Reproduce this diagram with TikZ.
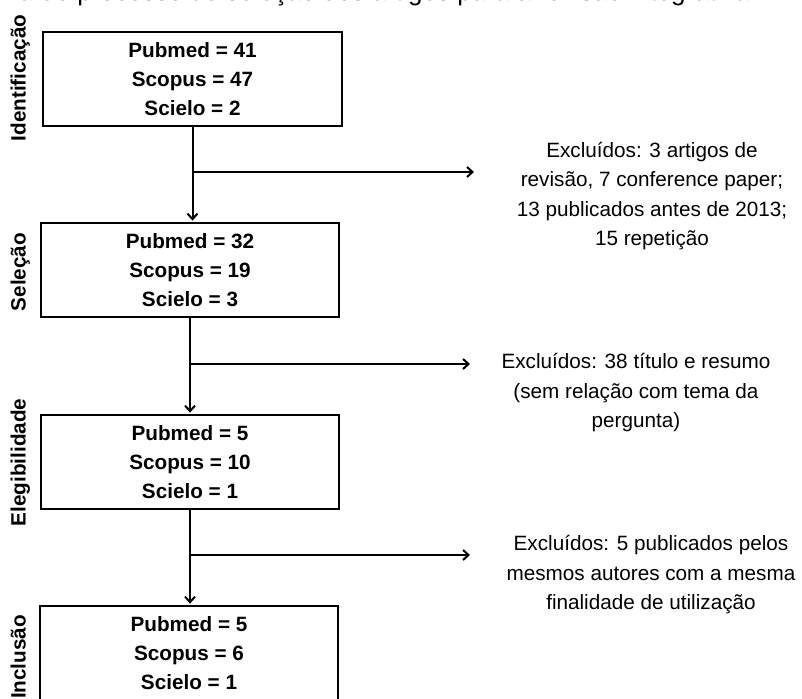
\documentclass[tikz,border=0pt]{standalone}
\usepackage{fontspec}
\setmainfont{Liberation Sans}
\usetikzlibrary{arrows.meta}
\begin{document}
\begin{tikzpicture}[x=1pt,y=-1pt,
  box/.style={draw, line width=2.4pt, minimum width=299pt, minimum height=94pt, inner sep=0pt, align=center, font=\bfseries\fontsize{20.7}{29}\selectfont},
  conn/.style={line width=2pt, -{Straight Barb[length=5.5pt,width=10pt]}},
  note/.style={align=center, inner sep=0pt, font=\fontsize{20.7}{29.5}\selectfont},
  phase/.style={rotate=90, anchor=base, inner sep=0pt, font=\bfseries\fontsize{20.7}{25}\selectfont}]
\useasboundingbox (0,0) rectangle (802,698);
\clip (0,0) rectangle (802,698);
% title (cut off at the top in the reference)
\node[anchor=base west, inner sep=0pt, font=\fontsize{26}{30}\selectfont] (title) at (-103.5,0.8) {Fluxograma do processo de seleção dos artigos para a revisão integrativa};
% boxes
\node[box] (b1) at (192.5,79) {Pubmed = 41\\Scopus = 47\\Scielo = 2};
\node[box, minimum width=298pt] (b2) at (190,270) {Pubmed = 32\\Scopus = 19\\Scielo = 3};
\node[box, minimum width=298pt] (b3) at (190,462) {Pubmed = 5\\Scopus = 10\\Scielo = 1};
\node[box, minimum width=298pt, minimum height=95pt] (b4) at (189,653.5) {Pubmed = 5\\Scopus = 6\\Scielo = 1};
% phase labels
\node[phase] (p1) at (25.5,78) {Identificação};
\node[phase] (p2) at (25.5,272) {Seleção};
\node[phase] (p3) at (25.5,462.5) {Elegibilidade};
\node[phase] (p4) at (25.5,657) {Inclusão};
% excluded notes
\node[note] (e1) at (652,196) {Excluídos: 3 artigos de\\revisão, 7 conference paper;\\13 publicados antes de 2013;\\15 repetição};
\node[note] (e2) at (636,393) {Excluídos: 38 título e resumo\\(sem relação com tema da\\pergunta)};
\node[note] (e3) at (651,575) {Excluídos: 5 publicados pelos\\mesmos autores com a mesma\\finalidade de utilização};
% connectors
\draw[conn, shorten >=1.2pt] (b1.south) -- (b1.south |- b2.north);
\draw[conn, shorten >=1.2pt] (b2.south) -- (b2.south |- b3.north);
\draw[conn, shorten >=1.2pt] (b3.south) -- (b3.south |- b4.north);
\coordinate (j1) at (192.5,172);
\coordinate (a1) at (474,172);
\coordinate (j2) at (190,364);
\coordinate (a2) at (470,364);
\coordinate (j3) at (190,555);
\coordinate (a3) at (470,555);
\draw[conn] (j1) -- (a1);
\draw[conn] (j2) -- (a2);
\draw[conn] (j3) -- (a3);
\end{tikzpicture}
\end{document}
